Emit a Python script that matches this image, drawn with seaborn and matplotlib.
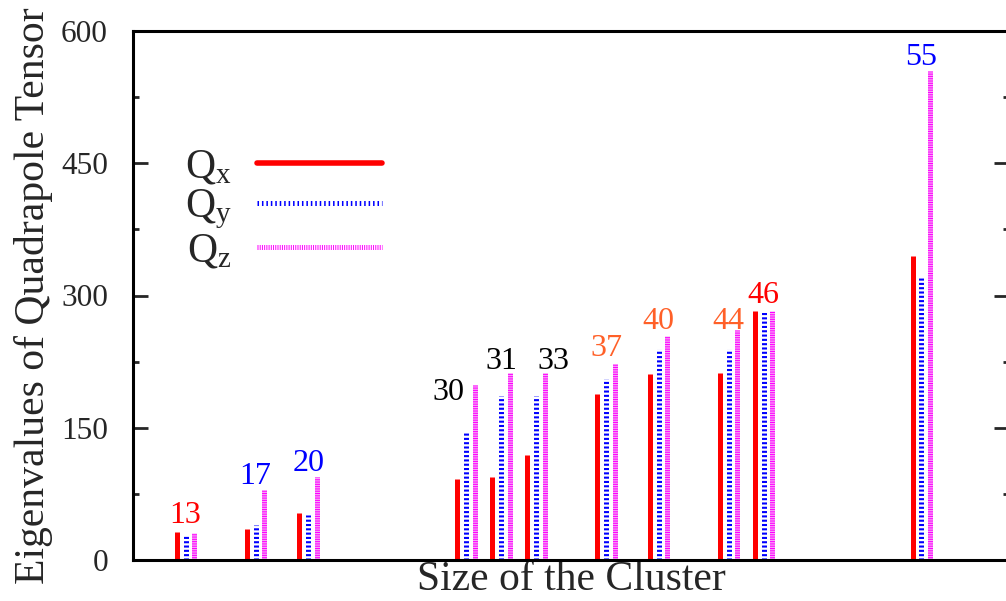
import numpy as np
import matplotlib
matplotlib.use("Agg")
import matplotlib.pyplot as plt
import seaborn as sns
from matplotlib.ticker import MultipleLocator

# cluster sizes and where each group sits on the x axis
cluster_sizes = [13, 17, 20, 30, 31, 33, 37, 40, 44, 46, 55]
group_x = [13, 17, 20, 29, 31, 33, 37, 40, 44, 46, 55]

# eigenvalues of the quadrupole tensor
q_x = [32, 35, 53, 92, 94, 119, 188, 211, 212, 282, 345]
q_y = [27, 40, 51, 144, 186, 186, 205, 239, 239, 281, 320]
q_z = [31, 79, 94, 198, 212, 212, 222, 254, 261, 282, 555]

# size labels above the groups
label_x = [13, 17, 20, 28, 31, 34, 37, 40, 44, 46, 55]
label_y = [50, 95, 110, 190, 225, 225, 240, 270, 270, 300, 570]
label_colors = ['#ff0000', '#0000ff', '#0000ff', '#000000', '#000000', '#000000',
                '#ff6028', '#ff6028', '#ff6028', '#ff0000', '#0000ff']

y_ticks = [0, 150, 300, 450, 600]

sns.set_style('ticks')
plt.rcParams['font.family'] = ['Liberation Serif', 'DejaVu Serif']
plt.rcParams['mathtext.fontset'] = 'custom'
plt.rcParams['mathtext.rm'] = 'Liberation Serif'
plt.rcParams['mathtext.it'] = 'Liberation Serif'
plt.rcParams['lines.scale_dashes'] = False

fig = plt.figure(figsize=(10.06, 6.01), dpi=100)
ax = fig.add_axes([133 / 1006, 41 / 601, 876 / 1006, 529 / 601])

x = np.array(group_x, dtype=float)
off = 0.5
lw = 3.6

# Qx: solid red impulses
ax.vlines(x - off, 0, q_x, color='#ff0000', linewidth=lw)
# Qy: blue dashed impulses
ax.vlines(x, 0, q_y, color='#0000ff', linewidth=lw,
          linestyles=[(0, (1.5, 1.6))])
# Qz: pink base with fine magenta dashes
ax.vlines(x + off, 0, q_z, color='#f7a6f7', linewidth=lw)
ax.vlines(x + off, 0, q_z, color='#ff00ff', linewidth=lw,
          linestyles=[(0, (0.75, 0.9))])

for lx, ly, txt, c in zip(label_x, label_y, cluster_sizes, label_colors):
    ax.text(lx, ly, str(txt), color=c, fontsize=23, ha='center', va='center')

# legend handles
lx_h, = ax.plot([], [], color='#ff0000', linewidth=4)
ly_h, = ax.plot([], [], color='#0000ff', linewidth=3.6, dashes=(1.1, 2.1))
lz_h, = ax.plot([], [], color='#ff00ff', linewidth=3.6, dashes=(0.7, 0.9))
ax.legend([lx_h, ly_h, lz_h], [r'$\mathrm{Q_x}$', r'$\mathrm{Q_y}$', r'$\mathrm{Q_z}$'],
          loc='upper left', bbox_to_anchor=(0.040, 0.81), frameon=False,
          markerfirst=False, fontsize=30, handlelength=3.0, handletextpad=0.6,
          labelspacing=0.02, borderaxespad=0)

ax.set_xlim(10, 60)
ax.set_ylim(0, 600)
ax.set_yticks(y_ticks)
ax.yaxis.set_minor_locator(MultipleLocator(75))
ax.set_xticks([])
ax.tick_params(axis='y', which='both', direction='in', left=True, right=True,
               labelsize=22.5, pad=18)
ax.tick_params(axis='y', which='major', length=11, width=2)
ax.tick_params(axis='y', which='minor', length=4.5, width=2)

for s in ax.spines.values():
    s.set_linewidth(2.2)
    s.set_color('black')

ax.set_xlabel('Size of the Cluster', fontsize=30, labelpad=0)
ax.set_ylabel('Eigenvalues of Quadrapole Tensor', fontsize=30, labelpad=6)

fig.savefig('out.png', dpi=100)
